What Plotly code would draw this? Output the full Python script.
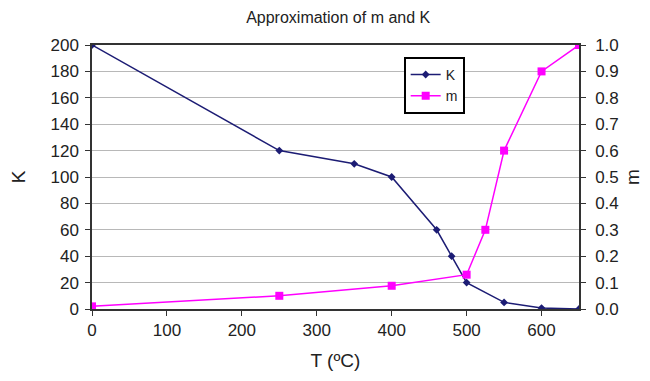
import plotly.graph_objects as go

T_K = [0, 250, 350, 400, 460, 480, 500, 550, 600, 650]
K_vals = [200, 120, 110, 100, 60, 40, 20, 5, 0.7, 0]
T_m = [0, 250, 400, 500, 525, 550, 600, 650]
m_vals = [0.01, 0.05, 0.088, 0.13, 0.30, 0.60, 0.90, 1.00]

font_family = "Liberation Sans, Arial, sans-serif"

fig = go.Figure()
fig.add_trace(go.Scatter(
    x=T_K, y=K_vals, name="K", mode="lines+markers",
    line=dict(color="#1c1c74", width=1.5),
    marker=dict(symbol="diamond", size=6, color="#1c1c74"),
))
fig.add_trace(go.Scatter(
    x=T_m, y=m_vals, name="m", mode="lines+markers", yaxis="y2",
    line=dict(color="#ff00ff", width=1.5),
    marker=dict(symbol="square", size=8, color="#ff00ff"),
))

fig.update_layout(
    width=635, height=366,
    margin=dict(l=84, r=64, t=37, b=65),
    paper_bgcolor="white", plot_bgcolor="white",
    font=dict(family=font_family, size=17, color="#222222"),
    title=dict(text="Approximation of m and K", x=0.52, xanchor="center",
               y=0.975, yanchor="middle", font=dict(size=16, color="#222222")),
    showlegend=True,
    legend=dict(x=0.64, y=0.955, xanchor="left", yanchor="top",
                bordercolor="black", borderwidth=2, bgcolor="white",
                font=dict(size=14), tracegroupgap=0, itemwidth=30),
    xaxis=dict(
        range=[0, 650], tickmode="array", tickvals=[0, 100, 200, 300, 400, 500, 600],
        showgrid=False, zeroline=False, automargin=False,
        showline=True, linecolor="#333333", linewidth=1.5, mirror=True,
        ticks="outside", ticklen=5, tickcolor="#333333",
        title=dict(text="T (ºC)", font=dict(size=19), standoff=15),
    ),
    yaxis=dict(
        range=[0, 200], dtick=20, showgrid=True, gridcolor="#b8b8b8", gridwidth=1,
        zeroline=False, showline=True, linecolor="#333333", linewidth=1.5,
        automargin=False, ticklabelstandoff=3,
        ticks="outside", ticklen=5, tickcolor="#333333",
        title=dict(text="K", font=dict(size=19), standoff=22),
    ),
    yaxis2=dict(
        range=[0, 1], dtick=0.1, tickformat=".1f", overlaying="y", side="right",
        showgrid=False, zeroline=False, showline=True, linecolor="#333333", linewidth=1.5,
        automargin=False, ticklabelstandoff=6,
        ticks="outside", ticklen=5, tickcolor="#333333",
        title=dict(text="m", font=dict(size=19), standoff=24),
    ),
)

fig.write_html("out.html")
